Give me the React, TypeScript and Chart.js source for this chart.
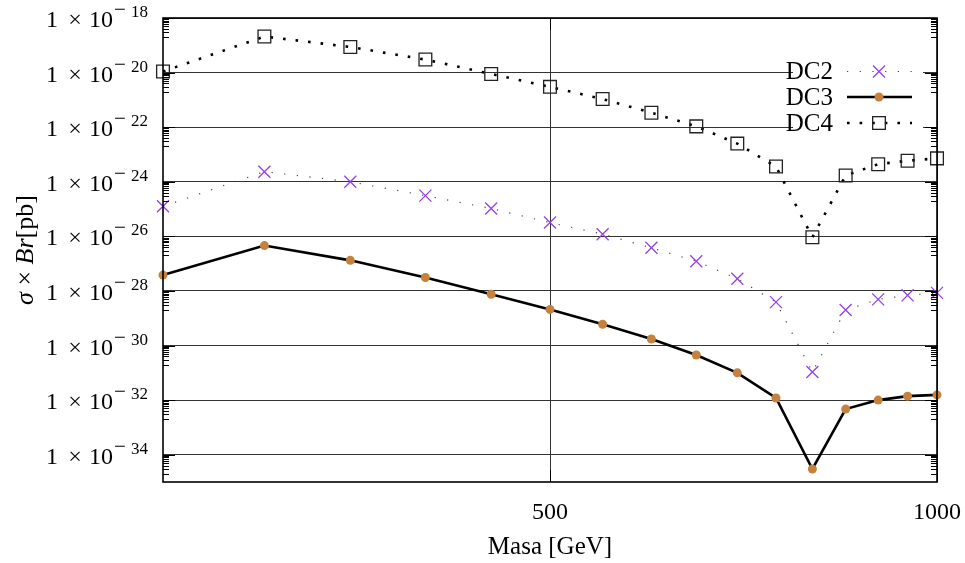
import React, { useEffect, useRef } from 'react';
import { Chart, registerables } from 'chart.js';

Chart.register(...registerables);

// ---------- data ----------
const masses = [0, 131, 242, 339, 424, 500, 568, 631, 689, 742, 792, 839, 882, 924, 962, 1000];
const dc2 = [1.26e-25, 2.34e-24, 1.0e-24, 3.1e-25, 1.05e-25, 3.2e-26, 1.2e-26, 3.8e-27, 1.23e-27, 2.8e-28, 3.9e-29, 1.07e-31, 2.0e-29, 4.9e-29, 6.9e-29, 8.5e-29];
const dc3 = [3.8e-28, 4.6e-27, 1.32e-27, 3.1e-28, 7.6e-29, 2.1e-29, 6.0e-30, 1.74e-30, 4.5e-31, 1.0e-31, 1.2e-32, 3.0e-35, 4.7e-33, 1.0e-32, 1.4e-32, 1.55e-32];
const dc4 = [1.1e-20, 2.09e-19, 8.7e-20, 3.0e-20, 8.9e-21, 3.0e-21, 1.07e-21, 3.4e-22, 1.07e-22, 2.5e-23, 3.6e-24, 9.3e-27, 1.7e-24, 4.4e-24, 5.9e-24, 7.2e-24];
const seriesLabels = ['DC2', 'DC3', 'DC4'];
const yTickExponents = [-18, -20, -22, -24, -26, -28, -30, -32, -34];
const xTickValues = [500, 1000];
const xRange = [0, 1000];
const yRange = [1e-35, 1e-18];
const xTitle = 'Masa [GeV]';
const yTitleParts = [
  { text: 'σ', italic: true },
  { text: ' × ', italic: false },
  { text: 'Br', italic: true },
  { text: '[pb]', italic: false },
];

// ---------- styles ----------
const FONT = '"Liberation Serif", "DejaVu Serif", serif';
const PURPLE = '#9440ed';
const ORANGE = '#c4823e';
const W = 965;
const H = 563;

const toPoints = (arr: number[]) => masses.map((m, i) => ({ x: m, y: arr[i] }));

function drawCross(ctx: CanvasRenderingContext2D, x: number, y: number, r: number) {
  const o = r * Math.SQRT1_2;
  ctx.beginPath();
  ctx.moveTo(x - o, y - o);
  ctx.lineTo(x + o, y + o);
  ctx.moveTo(x - o, y + o);
  ctx.lineTo(x + o, y - o);
  ctx.stroke();
}

const decorPlugin = {
  id: 'decor',
  afterDraw(chart: any) {
    const ctx: CanvasRenderingContext2D = chart.ctx;
    const { left, right, top, bottom } = chart.chartArea;
    const ys = chart.scales.y;
    const xs = chart.scales.x;
    ctx.save();

    // legend (opaque box)
    ctx.fillStyle = '#fff';
    ctx.fillRect(793, 58, 130, 80);
    const legendY = [71.5, 97, 123];
    const lx0 = 847;
    const lx1 = 912;
    const lm = 879;
    ctx.font = `25px ${FONT}`;
    ctx.textAlign = 'right';
    ctx.textBaseline = 'middle';
    ctx.fillStyle = '#000';
    seriesLabels.forEach((lab, i) => ctx.fillText(lab, 833, legendY[i] + 1));
    // DC2 sample
    ctx.strokeStyle = '#444';
    ctx.lineWidth = 1.2;
    ctx.setLineDash([1.2, 11.5]);
    ctx.beginPath();
    ctx.moveTo(lx0, legendY[0]);
    ctx.lineTo(lx1, legendY[0]);
    ctx.stroke();
    ctx.setLineDash([]);
    ctx.strokeStyle = PURPLE;
    ctx.lineWidth = 1.3;
    drawCross(ctx, lm, legendY[0], 8.5);
    // DC3 sample
    ctx.strokeStyle = '#000';
    ctx.lineWidth = 2.5;
    ctx.beginPath();
    ctx.moveTo(lx0, legendY[1]);
    ctx.lineTo(lx1, legendY[1]);
    ctx.stroke();
    ctx.fillStyle = ORANGE;
    ctx.beginPath();
    ctx.arc(lm, legendY[1], 4.5, 0, Math.PI * 2);
    ctx.fill();
    // DC4 sample
    ctx.strokeStyle = '#000';
    ctx.lineWidth = 2.6;
    ctx.setLineDash([2.6, 10]);
    ctx.beginPath();
    ctx.moveTo(lx0, legendY[2]);
    ctx.lineTo(lx1, legendY[2]);
    ctx.stroke();
    ctx.setLineDash([]);
    ctx.strokeStyle = '#222';
    ctx.lineWidth = 1.3;
    ctx.strokeRect(lm - 6.35, legendY[2] - 6.35, 12.7, 12.7);

    // tick marks (inward, both sides)
    ctx.strokeStyle = '#000';
    ctx.lineWidth = 1;
    ctx.beginPath();
    yTickExponents.forEach((e) => {
      const y = Math.round(ys.getPixelForValue(Math.pow(10, e))) + 0.5;
      ctx.moveTo(left, y);
      ctx.lineTo(left + 12, y);
      ctx.moveTo(right, y);
      ctx.lineTo(right - 12, y);
      for (let k = 2; k <= 9; k++) {
        const v = k * Math.pow(10, e - 1);
        if (v < yRange[0] || v > yRange[1]) continue;
        const yy = Math.round(ys.getPixelForValue(v)) + 0.5;
        ctx.moveTo(left, yy);
        ctx.lineTo(left + 6, yy);
        ctx.moveTo(right, yy);
        ctx.lineTo(right - 6, yy);
      }
    });
    xTickValues.forEach((v) => {
      const x = Math.round(xs.getPixelForValue(v)) + 0.5;
      ctx.moveTo(x, bottom);
      ctx.lineTo(x, bottom - 12);
      ctx.moveTo(x, top);
      ctx.lineTo(x, top + 12);
    });
    ctx.stroke();

    // border
    ctx.lineWidth = 1.6;
    ctx.strokeRect(left, top, right - left, bottom - top);

    // y tick labels: 1 × 10^e
    ctx.fillStyle = '#000';
    ctx.textBaseline = 'alphabetic';
    yTickExponents.forEach((e) => {
      const y = ys.getPixelForValue(Math.pow(10, e));
      const base = y + 9;
      ctx.font = `24px ${FONT}`;
      ctx.textAlign = 'left';
      ctx.fillText('1', 46, base);
      ctx.textAlign = 'center';
      ctx.fillText('×', 75, base);
      ctx.textAlign = 'left';
      ctx.fillText('10', 89, base);
      ctx.font = `21px ${FONT}`;
      ctx.fillText('−', 114, base - 11);
      ctx.font = `17px ${FONT}`;
      ctx.textAlign = 'right';
      ctx.fillText(String(Math.abs(e)), 148, base - 10);
    });

    // x tick labels
    ctx.font = `24px ${FONT}`;
    ctx.textAlign = 'center';
    ctx.textBaseline = 'middle';
    xTickValues.forEach((v) => {
      ctx.fillText(String(v), xs.getPixelForValue(v), 513);
    });

    // x title
    ctx.font = `25px ${FONT}`;
    ctx.fillText(xTitle, (left + right) / 2, 547);

    // y title (rotated, mixed italic)
    ctx.translate(26, 250);
    ctx.rotate(-Math.PI / 2);
    const fontFor = (it: boolean) => `${it ? 'italic ' : ''}26px ${FONT}`;
    let total = 0;
    const widths = yTitleParts.map((p) => {
      ctx.font = fontFor(p.italic);
      const w = ctx.measureText(p.text).width;
      total += w;
      return w;
    });
    let cx = -total / 2;
    ctx.textAlign = 'left';
    yTitleParts.forEach((p, i) => {
      ctx.font = fontFor(p.italic);
      ctx.fillText(p.text, cx, 0);
      cx += widths[i];
    });

    ctx.restore();
  },
};

export default function App() {
  const canvasRef = useRef<HTMLCanvasElement | null>(null);

  useEffect(() => {
    const canvas = canvasRef.current;
    if (!canvas) return;
    document.body.style.margin = '0';
    const chart = new Chart(canvas, {
      type: 'line',
      data: {
        datasets: [
          {
            label: seriesLabels[0],
            data: toPoints(dc2),
            borderColor: '#444',
            borderWidth: 1.2,
            borderDash: [1.2, 11.5],
            pointStyle: 'crossRot',
            pointRadius: 8.5,
            pointBorderColor: PURPLE,
            pointBackgroundColor: PURPLE,
            pointBorderWidth: 1.3,
            fill: false,
            tension: 0,
            clip: false,
          },
          {
            label: seriesLabels[1],
            data: toPoints(dc3),
            borderColor: '#000',
            borderWidth: 2.6,
            pointStyle: 'circle',
            pointRadius: 4.5,
            pointBorderWidth: 0,
            pointBorderColor: ORANGE,
            pointBackgroundColor: ORANGE,
            fill: false,
            tension: 0,
            clip: false,
          },
          {
            label: seriesLabels[2],
            data: toPoints(dc4),
            borderColor: '#000',
            borderWidth: 2.6,
            borderDash: [2.6, 10],
            pointStyle: 'rect',
            pointRadius: 9,
            pointBorderColor: '#222',
            pointBackgroundColor: 'rgba(0,0,0,0)',
            pointBorderWidth: 1.3,
            fill: false,
            tension: 0,
            clip: false,
          },
        ],
      },
      options: {
        responsive: false,
        animation: false,
        events: [],
        layout: { padding: { left: 0, right: 28, top: 18, bottom: 0 } },
        plugins: {
          legend: { display: false },
          tooltip: { enabled: false },
          title: { display: false },
        },
        scales: {
          x: {
            type: 'linear',
            min: xRange[0],
            max: xRange[1],
            afterBuildTicks: (s: any) => {
              s.ticks = xTickValues.map((v) => ({ value: v }));
            },
            afterFit: (s: any) => {
              s.height = 81;
            },
            ticks: { display: false },
            border: { display: false },
            grid: { color: '#333', lineWidth: 1, drawTicks: false },
          },
          y: {
            type: 'logarithmic',
            min: yRange[0],
            max: yRange[1],
            afterBuildTicks: (s: any) => {
              s.ticks = yTickExponents.map((e) => ({ value: Math.pow(10, e) }));
            },
            afterFit: (s: any) => {
              s.width = 163;
            },
            ticks: { display: false },
            border: { display: false },
            grid: { color: '#333', lineWidth: 1, drawTicks: false },
          },
        },
      } as any,
      plugins: [decorPlugin],
    });
    return () => chart.destroy();
  }, []);

  return (
    <div style={{ width: W, height: H }}>
      <canvas ref={canvasRef} width={W} height={H} style={{ display: 'block' }} />
    </div>
  );
}
